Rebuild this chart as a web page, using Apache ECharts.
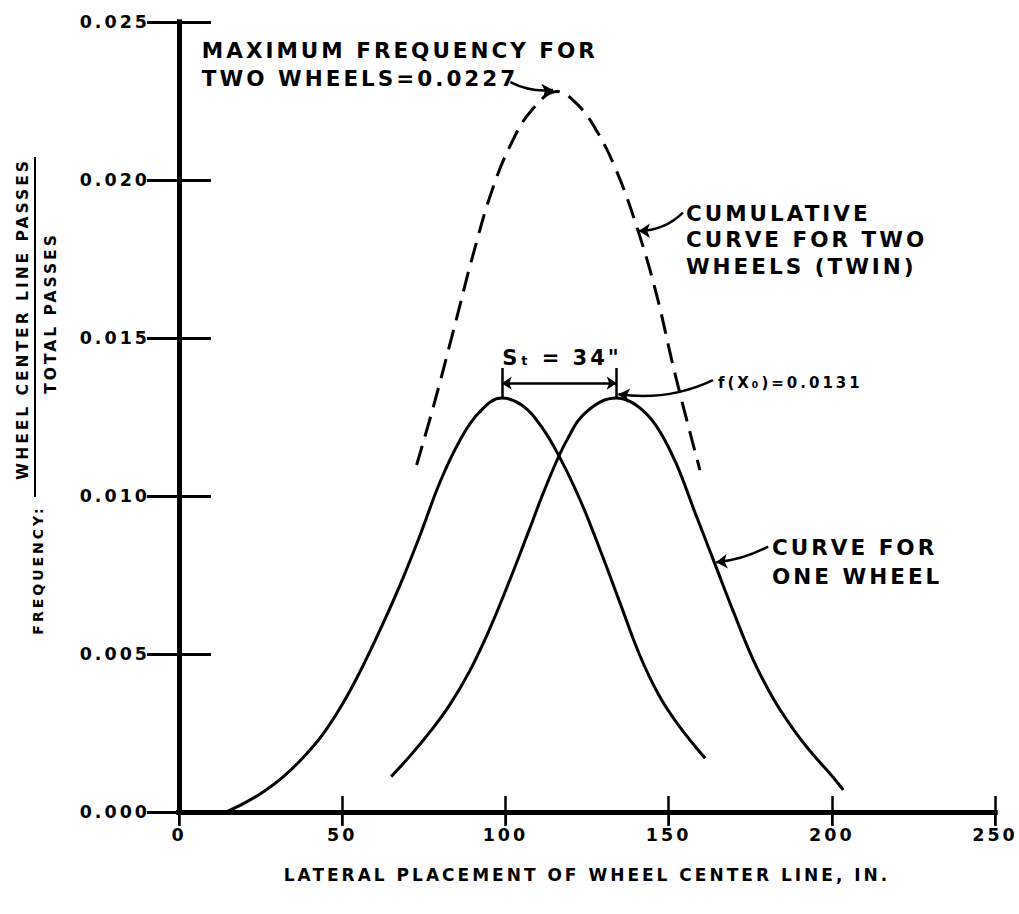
<!DOCTYPE html>
<html>
<head>
<meta charset="utf-8">
<script src="https://cdn.jsdelivr.net/npm/echarts@6/dist/echarts.min.js"></script>
<style>
  html, body { margin: 0; padding: 0; background: #fff; }
  #chart { width: 1019px; height: 914px; }
  /* stencil lettering is widely spaced */
  #chart text { letter-spacing: 3px; }
</style>
</head>
<body>
<div id="chart"></div>
<script>
// curve for one wheel (left position)
var leftX = [14.4, 20, 26, 32, 38, 44, 50, 56, 62, 68, 74, 80, 86, 92, 98.9,
             105, 111, 117, 123, 129, 135, 141, 147, 153, 161.2];
var leftY = [0, 0.00028, 0.00065, 0.00112, 0.00172, 0.00245, 0.00340, 0.00455, 0.00585, 0.00725,
             0.00880, 0.01045, 0.01175, 0.01265, 0.0131, 0.01288, 0.01220, 0.01115, 0.00985, 0.00830,
             0.00665, 0.00500, 0.00370, 0.00275, 0.00170];
// curve for one wheel (right position)
var rightX = [65, 71, 77, 83, 89, 95, 101, 107, 113, 119, 125, 134.1,
              140, 146, 152, 158, 164, 170, 176, 182, 188, 194, 200, 203.5];
var rightY = [0.00112, 0.00180, 0.00255, 0.00340, 0.00445, 0.00575, 0.00725, 0.00885, 0.01045, 0.01180,
              0.01268, 0.0131, 0.01288, 0.01225, 0.01110, 0.00950, 0.00790, 0.00630, 0.00480, 0.00360,
              0.00265, 0.00185, 0.00115, 0.00070];
// cumulative curve for two wheels (twin)
var twinX = [72.8, 78, 84, 90, 96, 102, 108, 115.7, 122, 128, 134, 140, 146, 152, 159.6];
var twinY = [0.01098, 0.01285, 0.01520, 0.01760, 0.01970, 0.02120, 0.02220, 0.0228, 0.02240, 0.02155,
             0.02030, 0.01860, 0.01650, 0.01385, 0.01082];

// annotation arrows [from, to] in data units
var maxArrow = [[101.5, 0.0231], [114.6, 0.02285]];
var cumArrow = [[154.4, 0.01897], [140.9, 0.01839]];
var oneArrow = [[180.5, 0.00840], [164.6, 0.00790]];
var fxArrow = [[163.6, 0.01367], [134.6, 0.01322]];
// spacing bracket: left peak x, right peak x, top, bottom, arrow level
var stBracket = [98.9, 134.1, 0.01405, 0.0131, 0.01357];

// annotation text anchors (left edge, vertical middle)
var maxText = [7.0, 0.02367];
var cumText = [155.3, 0.01811];
var oneText = [181.7, 0.00790];
var fxText = [165.1, 0.01357];
var stText = [99.0, 0.01437];

var FONT = 'DejaVu Sans';
var INK = '#000';

function zip(xs, ys) {
    return xs.map(function (x, i) { return [x, ys[i]]; });
}

var dom = document.getElementById('chart');
var myChart = echarts.init(dom, null, { renderer: 'svg' });

var note = function (pos, text, extra) {
    var lbl = {
        show: true,
        position: 'right',
        distance: 0,
        formatter: text,
        color: INK,
        opacity: 1,
        fontFamily: FONT,
        fontWeight: 'bold',
        fontSize: 21.5,
        lineHeight: 27
    };
    for (var k in extra) lbl[k] = extra[k];
    return { value: pos, label: lbl };
};

var arrowLine = function (seg, curve) {
    return { coords: seg, lineStyle: { curveness: curve } };
};

var tickText = { color: INK, fontFamily: FONT, fontWeight: 'bold', fontSize: 17.5 };

var option = {
    backgroundColor: '#fff',
    animation: false,
    grid: { left: 179, right: 24, top: 22, bottom: 102 },
    xAxis: [
        {
            type: 'value', min: 0, max: 250, interval: 50, position: 'bottom',
            axisLine: { show: true, lineStyle: { color: INK, width: 5, cap: 'square' } },
            axisTick: { show: true, inside: false, length: 13, lineStyle: { color: INK, width: 2 } },
            axisLabel: Object.assign({ margin: 14 }, tickText),
            splitLine: { show: false },
            name: 'LATERAL PLACEMENT OF WHEEL CENTER LINE, IN.',
            nameLocation: 'middle',
            nameGap: 54,
            nameTextStyle: { color: INK, fontFamily: FONT, fontWeight: 'bold', fontSize: 17 }
        },
        {
            type: 'value', min: 0, max: 250, interval: 50, position: 'bottom',
            axisLine: { show: false },
            axisTick: { show: true, inside: true, length: 16, lineStyle: { color: INK, width: 2.5 } },
            axisLabel: { show: false },
            splitLine: { show: false }
        },
        {
            type: 'value', min: 0, max: 250, interval: 50, position: 'top',
            axisLine: { show: true, lineStyle: { color: INK, width: 5, cap: 'square' } },
            axisTick: { show: true, inside: true, length: 14, lineStyle: { color: INK, width: 2.5 } },
            axisLabel: { show: false },
            splitLine: { show: false }
        }
    ],
    yAxis: [
        {
            type: 'value', min: 0, max: 0.025, interval: 0.005, position: 'left',
            axisLine: { show: true, lineStyle: { color: INK, width: 5, cap: 'square' } },
            axisTick: { show: true, inside: false, length: 16, lineStyle: { color: INK, width: 2 } },
            axisLabel: Object.assign({
                margin: 29,
                formatter: function (v) { return v.toFixed(3); }
            }, tickText),
            splitLine: { show: false }
        },
        {
            type: 'value', min: 0, max: 0.025, interval: 0.005, position: 'left',
            axisLine: { show: false },
            axisTick: { show: true, inside: true, length: 32, lineStyle: { color: INK, width: 3 } },
            axisLabel: { show: false },
            splitLine: { show: false }
        },
        {
            type: 'value', min: 0, max: 0.025, interval: 0.005, position: 'right',
            axisLine: { show: true, lineStyle: { color: INK, width: 5, cap: 'square' } },
            axisTick: { show: true, inside: true, length: 32, lineStyle: { color: INK, width: 3 } },
            axisLabel: { show: false },
            splitLine: { show: false }
        }
    ],
    graphic: [
        {
            type: 'text', x: 23, y: 319, rotation: Math.PI / 2,
            style: { text: 'WHEEL CENTER LINE PASSES', fill: INK, font: 'bold 15.5px "DejaVu Sans"', align: 'center', verticalAlign: 'middle' }
        },
        {
            type: 'line', shape: { x1: 35, y1: 157, x2: 35, y2: 497 },
            style: { stroke: INK, lineWidth: 2 }
        },
        {
            type: 'text', x: 51, y: 313, rotation: Math.PI / 2,
            style: { text: 'TOTAL PASSES', fill: INK, font: 'bold 15.5px "DejaVu Sans"', align: 'center', verticalAlign: 'middle' }
        },
        {
            type: 'text', x: 38, y: 570, rotation: Math.PI / 2,
            style: { text: 'FREQUENCY:', fill: INK, font: 'bold 14px "DejaVu Sans"', align: 'center', verticalAlign: 'middle' }
        }
    ],
    series: [
        {
            name: 'one wheel (left)', type: 'line', smooth: 0.4, showSymbol: false, silent: true,
            lineStyle: { color: INK, width: 3 },
            data: zip(leftX, leftY)
        },
        {
            name: 'one wheel (right)', type: 'line', smooth: 0.4, showSymbol: false, silent: true,
            lineStyle: { color: INK, width: 3 },
            data: zip(rightX, rightY)
        },
        {
            name: 'two wheels (twin)', type: 'line', smooth: 0.4, showSymbol: false, silent: true,
            lineStyle: { color: INK, width: 3, type: [20, 10] },
            data: zip(twinX, twinY)
        },
        {
            name: 'arrows', type: 'lines', coordinateSystem: 'cartesian2d', silent: true,
            symbol: ['none', 'arrow'], symbolSize: 11,
            lineStyle: { color: INK, width: 2.5, opacity: 1 },
            data: [
                arrowLine(maxArrow, -0.15),
                arrowLine(cumArrow, 0.2),
                arrowLine(oneArrow, 0.1),
                arrowLine(fxArrow, 0.15)
            ]
        },
        {
            name: 'spacing', type: 'lines', coordinateSystem: 'cartesian2d', silent: true,
            symbol: ['none', 'none'],
            lineStyle: { color: INK, width: 2.5, opacity: 1 },
            data: [
                { coords: [[stBracket[0], stBracket[2]], [stBracket[0], stBracket[3]]] },
                { coords: [[stBracket[1], stBracket[2]], [stBracket[1], stBracket[3]]] }
            ]
        },
        {
            name: 'spacing arrow', type: 'lines', coordinateSystem: 'cartesian2d', silent: true,
            symbol: ['arrow', 'arrow'], symbolSize: 10,
            lineStyle: { color: INK, width: 2.5, opacity: 1 },
            data: [{ coords: [[stBracket[0], stBracket[4]], [stBracket[1], stBracket[4]]] }]
        },
        {
            name: 'notes', type: 'scatter', symbolSize: 0, silent: true,
            itemStyle: { color: 'transparent' },
            data: [
                note(maxText, 'MAXIMUM FREQUENCY FOR\nTWO WHEELS=0.0227', { lineHeight: 28 }),
                note(cumText, 'CUMULATIVE\nCURVE FOR TWO\nWHEELS (TWIN)', { lineHeight: 26.5 }),
                note(oneText, 'CURVE FOR\nONE WHEEL', { lineHeight: 29 }),
                note(fxText, 'f(X\u2080)=0.0131', { fontSize: 15 }),
                note(stText, 'S\u209C = 34"', { fontSize: 21 })
            ]
        }
    ]
};
myChart.setOption(option);
</script>
</body>
</html>
